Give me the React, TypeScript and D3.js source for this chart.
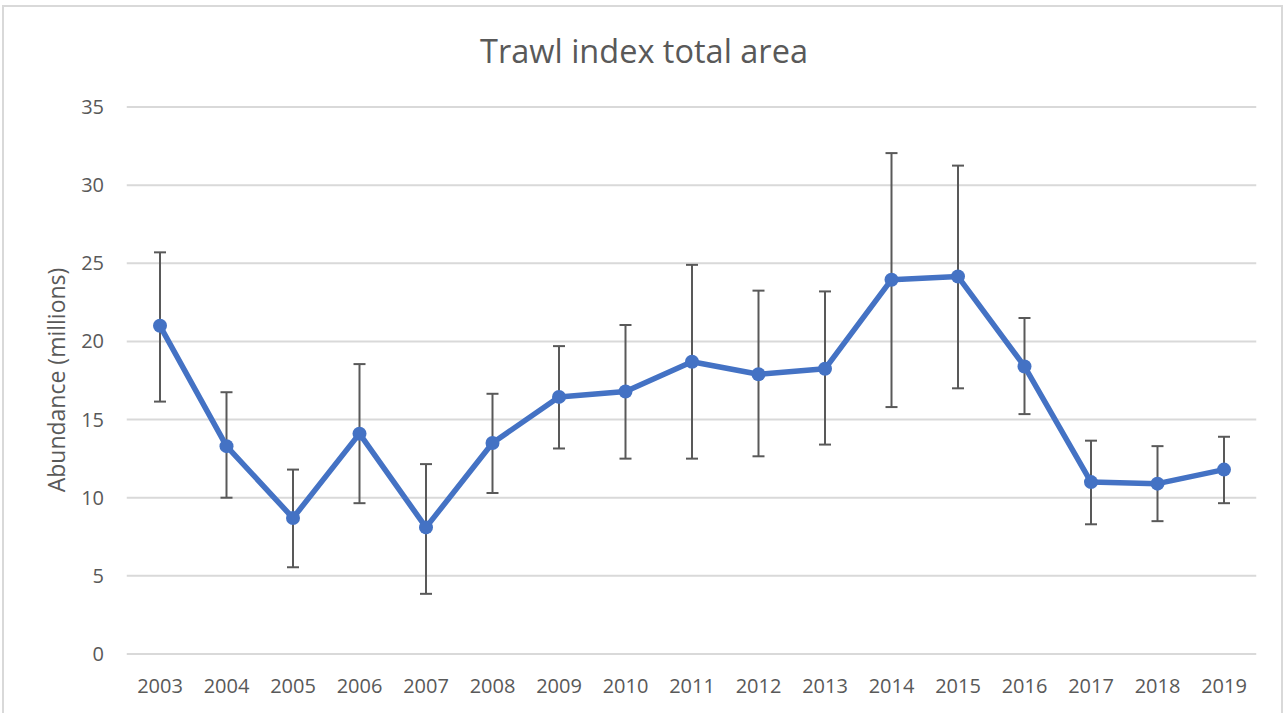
import React from "react";
import * as d3 from "d3";

const years = ["2003","2004","2005","2006","2007","2008","2009","2010","2011","2012","2013","2014","2015","2016","2017","2018","2019"];
const abundance = [21.0, 13.3, 8.7, 14.1, 8.1, 13.5, 16.45, 16.8, 18.7, 17.9, 18.25, 23.95, 24.15, 18.4, 11.0, 10.9, 11.8];
const upper = [25.7, 16.75, 11.8, 18.55, 12.15, 16.65, 19.7, 21.05, 24.9, 23.25, 23.2, 32.05, 31.25, 21.5, 13.65, 13.3, 13.9];
const lower = [16.15, 10.0, 5.55, 9.65, 3.85, 10.3, 13.15, 12.5, 12.5, 12.65, 13.4, 15.8, 17.0, 15.35, 8.3, 8.5, 9.65];
const yTicks = [0, 5, 10, 15, 20, 25, 30, 35];
const title = "Trawl index total area";
const yLabel = "Abundance (millions)";

export default function App() {
  const W = 1285, H = 713;
  const left = 126.75, right = 1257.25, top = 107, bottom = 654;
  const x = d3.scaleBand<string>().domain(years).range([left, right]);
  const y = d3.scaleLinear().domain([0, 35]).range([bottom, top]);
  const cx = (yr: string) => (x(yr) as number) + x.bandwidth() / 2;
  const line = d3.line<number>().x((_, i) => cx(years[i])).y((d) => y(d));
  const font = "'Open Sans', 'Liberation Sans', sans-serif";
  const textColor = "#595959";
  return (
    <svg width={W} height={H} style={{ position: "absolute", left: 0, top: 0, background: "#fff" }}>
      <rect x={3} y={6} width={1279} height={720} fill="#fff" stroke="#d9d9d9" strokeWidth={2} />
      <text x={644} y={63} textAnchor="middle" fontFamily={font} fontSize={32.5} fill={textColor}>{title}</text>
      {yTicks.map((t) => (
        <g key={t}>
          <line x1={left} x2={right - 1} y1={y(t)} y2={y(t)} stroke="#d9d9d9" strokeWidth={2} />
          <text x={104} y={y(t)} dy="0.35em" textAnchor="end" fontFamily={font} fontSize={20} fill={textColor}>{t}</text>
        </g>
      ))}
      {years.map((yr) => (
        <text key={yr} x={cx(yr)} y={693} textAnchor="middle" fontFamily={font} fontSize={20} fill={textColor}>{yr}</text>
      ))}
      <text transform={`translate(65, 380) rotate(-90)`} textAnchor="middle" fontFamily={font} fontSize={23} fill={textColor}>{yLabel}</text>
      {years.map((yr, i) => (
        <g key={"e" + yr} stroke="#595959" strokeWidth={2}>
          <line x1={cx(yr)} x2={cx(yr)} y1={y(upper[i])} y2={y(lower[i])} />
          <line x1={cx(yr) - 6} x2={cx(yr) + 6} y1={y(upper[i])} y2={y(upper[i])} />
          <line x1={cx(yr) - 6} x2={cx(yr) + 6} y1={y(lower[i])} y2={y(lower[i])} />
        </g>
      ))}
      <path d={line(abundance) || ""} fill="none" stroke="#4472C4" strokeWidth={5.5} strokeLinejoin="round" />
      {abundance.map((v, i) => (
        <circle key={"c" + i} cx={cx(years[i])} cy={y(v)} r={7} fill="#4472C4" />
      ))}
    </svg>
  );
}
